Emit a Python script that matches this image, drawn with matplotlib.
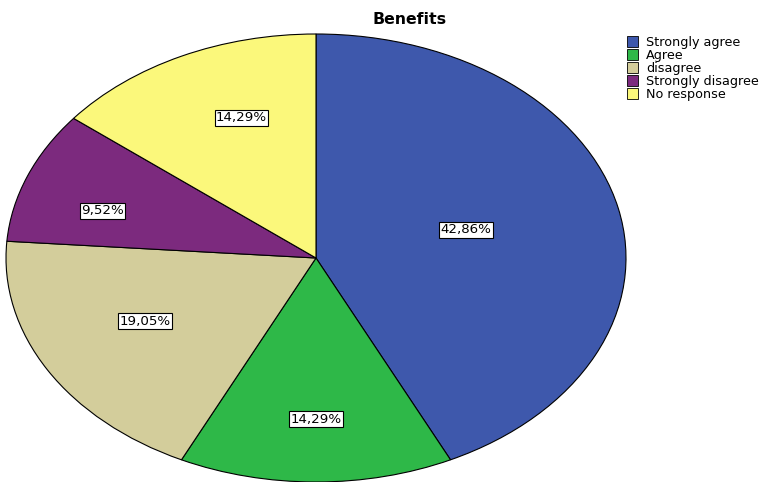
import numpy as np
import matplotlib.pyplot as plt
from matplotlib.patches import Patch

categories = ["Strongly agree", "Agree", "disagree", "Strongly disagree", "No response"]
percents = [42.86, 14.29, 19.05, 9.52, 14.29]
labels = ["42,86%", "14,29%", "19,05%", "9,52%", "14,29%"]
colors = ["#3E58AC", "#2EB848", "#D3CD9B", "#7C2A7E", "#FBF87B"]
# label placement inside each wedge (distance, angle shift in degrees)
label_dist = [0.5, 0.72, 0.62, 0.72, 0.67]
label_shift = [1.7, 0.0, -3.0, 4.4, -4.7]

fig = plt.figure(figsize=(7.61, 4.82), dpi=100)
ax = fig.add_axes([6 / 761, 0.0, 620 / 761, 448 / 482])
wedges, _ = ax.pie(percents, colors=colors, startangle=90, counterclock=False,
                   wedgeprops=dict(edgecolor="black", linewidth=0.8))
ax.set_aspect("auto")
ax.set_xlim(-1, 1)
ax.set_ylim(-1, 1)
ax.axis("off")

for w, lab, d, s in zip(wedges, labels, label_dist, label_shift):
    ang = np.deg2rad((w.theta1 + w.theta2) / 2 + s)
    ax.text(d * np.cos(ang), d * np.sin(ang), lab, ha="center", va="center",
            fontsize=9.6, fontfamily="DejaVu Sans",
            bbox=dict(facecolor="white", edgecolor="black", linewidth=0.8, pad=1.0))

fig.text(410 / 761, 1 - 20 / 482, "Benefits", ha="center", va="center",
         fontsize=11.3, fontweight="bold", fontfamily="DejaVu Sans")

handles = [Patch(facecolor=c, edgecolor="black", linewidth=0.6) for c in colors]
fig.legend(handles, categories, loc="upper left", bbox_to_anchor=(627 / 761, 1 - 36 / 482),
           frameon=False, handlelength=0.85, handleheight=0.85,
           handletextpad=0.65, labelspacing=0.0, borderaxespad=0, borderpad=0,
           prop={"family": "DejaVu Sans", "size": 9.2})

fig.savefig("out.png", dpi=100)
